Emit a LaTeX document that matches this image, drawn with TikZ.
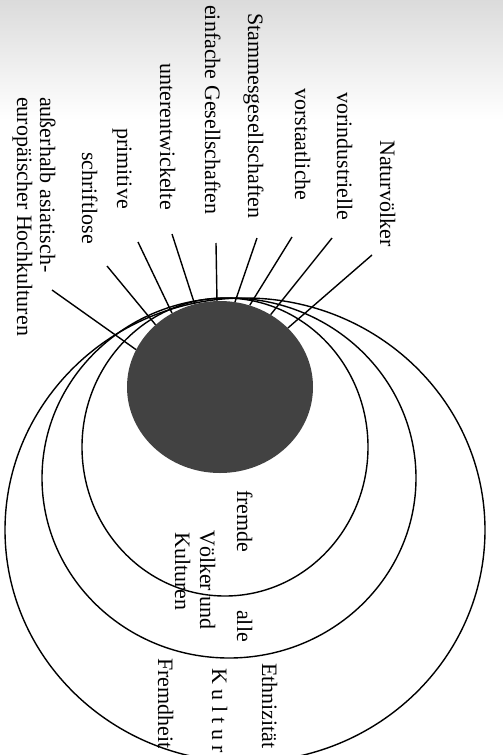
\documentclass[tikz,border=0pt]{standalone}
\usepackage{fontspec}
\setmainfont{Liberation Serif}
\usetikzlibrary{shapes.geometric}
\begin{document}
\begin{tikzpicture}[x=1pt,y=-1pt,
  lbl/.style={rotate=-90, anchor=base west, inner sep=0pt, font=\fontsize{22}{26}\selectfont},
  ring/.style={draw, ellipse, line width=1.4pt, inner sep=0pt},
  leader/.style={line width=1.4pt}]
\useasboundingbox (0,0) rectangle (503,755);
\shade[top color=black!14, bottom color=white] (0,0) rectangle (503,120);
% rings
\node[ring, minimum width=480pt, minimum height=464pt] (c3) at (245,530) {};
\node[ring, minimum width=374pt, minimum height=360pt] (c2) at (229,478) {};
\node[ring, minimum width=286pt, minimum height=298pt] (c1) at (225,447) {};
% core
\node[ellipse, fill=black!74, minimum width=186pt, minimum height=172pt, inner sep=0pt] (core) at (220,387) {};
% labels
\node[lbl] (t1) at (380,140) {Naturvölker};
\node[lbl] (t2) at (337,92) {vorindustrielle};
\node[lbl] (t3) at (295,88) {vorstaatliche};
\node[lbl] (t4) at (248,13) {Stammesgesellschaften};
\node[lbl] (t5) at (205,5) {einfache Gesellschaften};
\node[lbl] (t6) at (160,63) {unterentwickelte};
\node[lbl] (t7) at (117,128) {primitive};
\node[lbl] (t8) at (82,152) {schriftlose};
\node[lbl] (t9a) at (40,97) {außerhalb asiatisch-};
\node[lbl] (t9b) at (17,97) {europäischer Hochkulturen};
\node[lbl] (i1) at (237,490) {fremde};
\node[lbl] (i2) at (237,610) {alle};
\node[lbl] (i3) at (200,530) {Völker und};
\node[lbl] (i4) at (175,532) {Kulturen};
\node[lbl] (o1) at (262,663) {Ethnizität};
\node[lbl] (o2) at (212,668) {K u l t u r};
\node[lbl] (o3) at (158,658) {Fremdheit};
% leader starts
\coordinate (l1) at (372,255);
\coordinate (l2) at (332,238);
\coordinate (l3) at (292,237);
\coordinate (l4) at (257,238);
\coordinate (l5) at (216,243);
\coordinate (l6) at (172,234);
\coordinate (l7) at (138,242);
\coordinate (l8) at (107,266);
\coordinate (l9) at (52,290);
\draw[leader] (l1) -- (core.41);
\draw[leader] (l2) -- (core.55);
\draw[leader] (l3) -- (core.70);
\draw[leader] (l4) -- (core.80);
\draw[leader] (l5) -- (core.92);
\draw[leader] (l6) -- (core.107);
\draw[leader] (l7) -- (core.123);
\draw[leader] (l8) -- (core.136);
\draw[leader] (l9) -- (core.156);
\end{tikzpicture}
\end{document}
